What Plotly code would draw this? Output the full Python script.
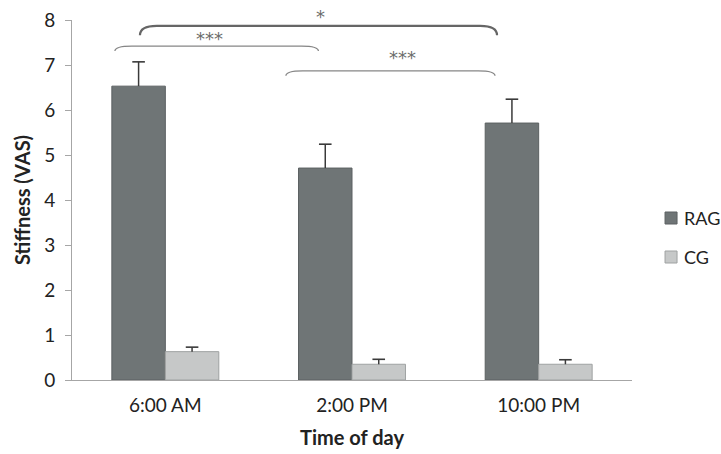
import plotly.graph_objects as go

# Stiffness (VAS) by time of day for the two groups
times = ["6:00 AM", "2:00 PM", "10:00 PM"]
rag_mean = [6.53, 4.71, 5.71]
rag_err = [0.54, 0.53, 0.53]
cg_mean = [0.63, 0.35, 0.35]
cg_err = [0.10, 0.11, 0.10]

# Significance brackets: (x start, x end, end height, top height, label, label x, label y)
brackets = [
    (-0.27, 0.82, 7.31, 7.42, "***", 0.234, 7.60),
    (0.646, 1.766, 6.76, 6.87, "***", 1.27, 7.17),
    (-0.136, 1.777, 7.66, 7.87, "*", 0.83, 8.08),
]
bracket_styles = [
    dict(color="#868686", width=1.3),
    dict(color="#868686", width=1.3),
    dict(color="#666666", width=2.2),
]

BARGAP = 0.427
Y_MAX = 8
PLOT_W, PLOT_H = 560, 360  # plotting area in pixels
xpos = list(range(len(times)))
half = (1 - BARGAP) / 4  # offset of each bar centre from its category centre

fig = go.Figure()
series = [
    ("RAG", rag_mean, rag_err, "#6f7576", "#5c6162", -half),
    ("CG", cg_mean, cg_err, "#c6c8c8", "#9fa2a2", half),
]
for name, mean, err, fill, edge, shift in series:
    fig.add_trace(go.Bar(
        x=xpos, y=mean, name=name,
        marker=dict(color=fill, line=dict(color=edge, width=1)),
        error_y=dict(type="data", symmetric=False, array=err,
                     arrayminus=[0] * len(err), color="#3a3a3a",
                     thickness=1.5, width=0),
    ))
    # caps on the upper end of the error bars only
    fig.add_trace(go.Scatter(
        x=[p + shift for p in xpos],
        y=[m + e for m, e in zip(mean, err)],
        mode="markers", showlegend=False, hoverinfo="skip",
        marker=dict(symbol="line-ew", size=9,
                    line=dict(color="#3a3a3a", width=1.6)),
    ))

# Legend drawn beside the plot: small swatch plus label per series
legend_top, legend_step = 0.45, 39 / PLOT_H
sw = 6 / PLOT_W
sh = 6 / PLOT_H
lx0 = 1.059
for i, (name, _, _, fill, edge, _) in enumerate(series):
    cy = legend_top - i * legend_step
    fig.add_shape(type="rect", xref="paper", yref="paper",
                  x0=lx0, x1=lx0 + 2 * sw, y0=cy - sh, y1=cy + sh,
                  fillcolor=fill, line=dict(color=edge, width=1))
    fig.add_annotation(x=lx0 + 2 * sw + 5 / PLOT_W, y=cy,
                       xref="paper", yref="paper", text=name,
                       showarrow=False, xanchor="left", yanchor="middle",
                       font=dict(family="Lato", size=18, color="#222222"))

for (x0, x1, yend, ytop, label, tx, ty), style in zip(brackets, bracket_styles):
    dx = 0.09
    path = (f"M {x0},{yend} Q {x0},{ytop} {x0 + dx},{ytop} "
            f"L {x1 - dx},{ytop} Q {x1},{ytop} {x1},{yend}")
    fig.add_shape(type="path", path=path, xref="x", yref="y",
                  line=style, layer="above")
    fig.add_annotation(x=tx, y=ty / Y_MAX, xref="x", yref="paper",
                       text=label, showarrow=False, yanchor="middle",
                       font=dict(family="DejaVu Sans", size=18,
                                 color="#6c6c6c"))

fig.update_layout(
    width=721, height=454,
    margin=dict(l=72, r=89, t=20, b=74, autoexpand=False),
    paper_bgcolor="white", plot_bgcolor="white",
    barmode="group", bargap=BARGAP, bargroupgap=0,
    font=dict(family="Lato", size=19, color="#222222"),
    showlegend=False,
    xaxis=dict(
        range=[-0.5, 2.5], tickvals=xpos, ticktext=times,
        showline=True, linecolor="#a6a6a6", linewidth=1,
        ticks="", showgrid=False, zeroline=False, ticklabelstandoff=8,
        title=dict(text="<b>Time of day</b>", standoff=16,
                   font=dict(family="Lato", size=20)),
    ),
    yaxis=dict(
        range=[0, Y_MAX], dtick=1, showline=True, linecolor="#a6a6a6",
        linewidth=1, ticks="outside", ticklen=6, tickcolor="#a6a6a6",
        showgrid=False, zeroline=False, ticklabelstandoff=6,
        title=dict(text="<b>Stiffness (VAS)</b>", standoff=8,
                   font=dict(family="Lato", size=20)),
    ),
)

fig.write_html("out.html")
